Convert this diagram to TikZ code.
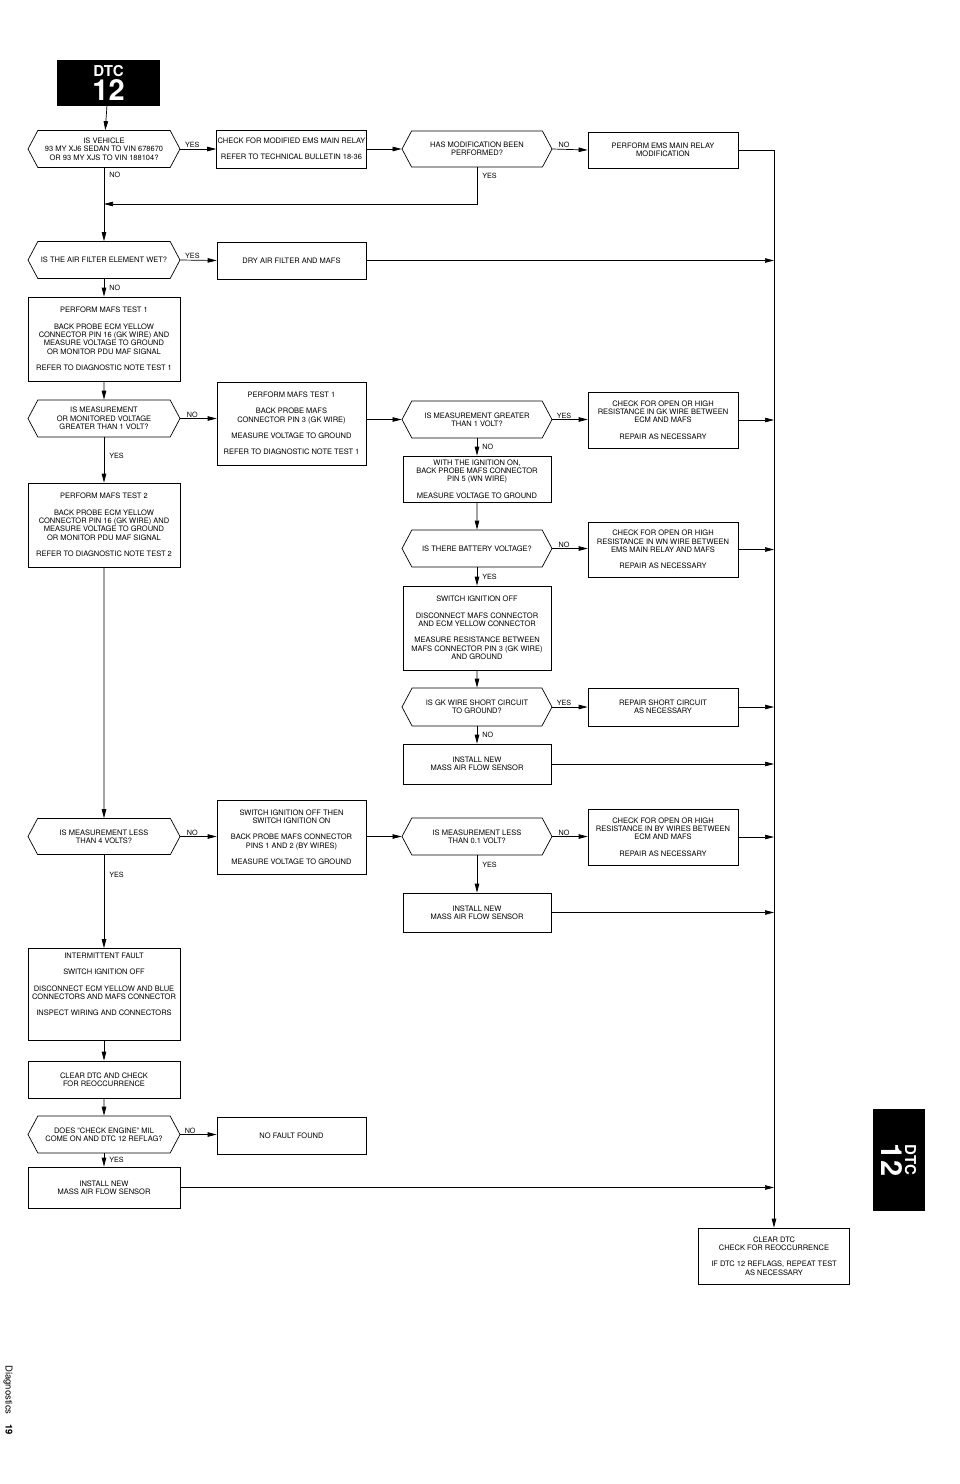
\documentclass[tikz,border=0pt]{standalone}
\usepackage{fontspec}
\setmainfont{TeX Gyre Heros}
\usetikzlibrary{arrows.meta,shapes.symbols}

\begin{document}
\begin{tikzpicture}[x=1pt,y=-1pt,
  every node/.style={font=\fontsize{7.5}{8.3}\selectfont, align=center},
  box/.style={draw, line width=0.7pt, inner xsep=1pt, inner ysep=2pt},
  lift/.style={execute at end node={\\[1.7pt]\mbox{}}},
  decision/.style={draw, line width=0.7pt, signal, signal to=west and east,
    signal pointer angle=124, inner sep=1pt},
  arr/.style={line width=0.7pt, -{Triangle[length=9pt,width=4.5pt]}},
  lbl/.style={inner sep=1pt, font=\fontsize{7.2}{8}\selectfont},
  tab/.style={fill=black, text=white, font=\fontsize{10}{10}\selectfont\bfseries}]

\useasboundingbox (0,0) rectangle (960,1484);

\node[tab, minimum width=103, minimum height=46] (title) at (108.5,83)
  {{\fontsize{15}{15}\selectfont DTC}\\[1pt]{\fontsize{29}{29}\selectfont 12}};

\node[decision, minimum width=152, minimum height=37] (vehicle) at (104,149)
  {IS VEHICLE\\93 MY XJ6 SEDAN TO VIN 678670\\OR 93 MY XJS TO VIN 188104?};
\node[box, minimum width=149, minimum height=38] (relaycheck) at (291.5,149)
  {CHECK FOR MODIFIED EMS MAIN RELAY\\[8pt]REFER TO TECHNICAL BULLETIN 18-36};
\node[decision, minimum width=150, minimum height=36] (modified) at (477,149)
  {HAS MODIFICATION BEEN\\PERFORMED?};
\node[box, lift, minimum width=150, minimum height=36] (relaymod) at (663,150)
  {PERFORM EMS MAIN RELAY\\MODIFICATION};
\coordinate (join) at (104,204);

\node[decision, minimum width=152, minimum height=37] (wet) at (104,260)
  {IS THE AIR FILTER ELEMENT WET?};
\node[box, minimum width=149, minimum height=37] (dry) at (291.5,260.5)
  {DRY AIR FILTER AND MAFS};

\node[box, lift, minimum width=152, minimum height=84] (ecmtest1) at (104,339)
  {PERFORM MAFS TEST 1\\[8pt]BACK PROBE ECM YELLOW\\CONNECTOR PIN 16 (GK WIRE) AND\\MEASURE VOLTAGE TO GROUND\\OR MONITOR PDU MAF SIGNAL\\[8pt]REFER TO DIAGNOSTIC NOTE TEST 1};
\node[decision, minimum width=152, minimum height=37] (ecmvolt) at (104,418.5)
  {IS MEASUREMENT\\OR MONITORED VOLTAGE\\GREATER THAN 1 VOLT?};
\node[box, lift, minimum width=149, minimum height=83] (mafstest1) at (291.5,423.5)
  {PERFORM MAFS TEST 1\\[8pt]BACK PROBE MAFS\\CONNECTOR PIN 3 (GK WIRE)\\[8pt]MEASURE VOLTAGE TO GROUND\\[8pt]REFER TO DIAGNOSTIC NOTE TEST 1};
\node[decision, minimum width=150, minimum height=37] (mafsvolt) at (477,419.5)
  {IS MEASUREMENT GREATER\\THAN 1 VOLT?};
\node[box, lift, minimum width=150, minimum height=56] (gkopen) at (663,420)
  {CHECK FOR OPEN OR HIGH\\RESISTANCE IN GK WIRE BETWEEN\\ECM AND MAFS\\[8pt]REPAIR AS NECESSARY};
\node[box, minimum width=148, minimum height=46] (wnprobe) at (477,479)
  {WITH THE IGNITION ON,\\BACK PROBE MAFS CONNECTOR\\PIN 5 (WN WIRE)\\[8pt]MEASURE VOLTAGE TO GROUND};
\node[decision, minimum width=150, minimum height=37] (battery) at (477,548.5)
  {IS THERE BATTERY VOLTAGE?};
\node[box, lift, minimum width=150, minimum height=55] (wnopen) at (663,549.5)
  {CHECK FOR OPEN OR HIGH\\RESISTANCE IN WN WIRE BETWEEN\\EMS MAIN RELAY AND MAFS\\[8pt]REPAIR AS NECESSARY};
\node[box, lift, minimum width=148, minimum height=84] (resist) at (477,628)
  {SWITCH IGNITION OFF\\[8pt]DISCONNECT MAFS CONNECTOR\\AND ECM YELLOW CONNECTOR\\[8pt]MEASURE RESISTANCE BETWEEN\\MAFS CONNECTOR PIN 3 (GK WIRE)\\AND GROUND};
\node[decision, minimum width=150, minimum height=38] (gkshort) at (477,707)
  {IS GK WIRE SHORT CIRCUIT\\TO GROUND?};
\node[box, minimum width=150, minimum height=38] (repshort) at (663,707)
  {REPAIR SHORT CIRCUIT\\AS NECESSARY};
\node[box, minimum width=148, minimum height=40] (newmafsa) at (477,764)
  {INSTALL NEW\\MASS AIR FLOW SENSOR};

\node[box, lift, minimum width=152, minimum height=84] (ecmtest2) at (104,525)
  {PERFORM MAFS TEST 2\\[8pt]BACK PROBE ECM YELLOW\\CONNECTOR PIN 16 (GK WIRE) AND\\MEASURE VOLTAGE TO GROUND\\OR MONITOR PDU MAF SIGNAL\\[8pt]REFER TO DIAGNOSTIC NOTE TEST 2};
\node[decision, minimum width=152, minimum height=36] (lessfour) at (104,836.5)
  {IS MEASUREMENT LESS\\THAN 4 VOLTS?};
\node[box, lift, minimum width=149, minimum height=74] (byprobe) at (291.5,837)
  {SWITCH IGNITION OFF THEN\\SWITCH IGNITION ON\\[8pt]BACK PROBE MAFS CONNECTOR\\PINS 1 AND 2 (BY WIRES)\\[8pt]MEASURE VOLTAGE TO GROUND};
\node[decision, minimum width=150, minimum height=37] (lesstenth) at (477,836.5)
  {IS MEASUREMENT LESS\\THAN 0.1 VOLT?};
\node[box, lift, minimum width=150, minimum height=56] (byopen) at (663,837)
  {CHECK FOR OPEN OR HIGH\\RESISTANCE IN BY WIRES BETWEEN\\ECM AND MAFS\\[8pt]REPAIR AS NECESSARY};
\node[box, minimum width=148, minimum height=39] (newmafsb) at (477,912.5)
  {INSTALL NEW\\MASS AIR FLOW SENSOR};

\node[box, minimum width=152, minimum height=92] (intermit) at (104,994.5)
  {INTERMITTENT FAULT\\[8pt]SWITCH IGNITION OFF\\[8pt]DISCONNECT ECM YELLOW AND BLUE\\CONNECTORS AND MAFS CONNECTOR\\[8pt]INSPECT WIRING AND CONNECTORS\\[12pt]\mbox{}};
\node[box, minimum width=152, minimum height=37] (cleardtc) at (104,1079.5)
  {CLEAR DTC AND CHECK\\FOR REOCCURRENCE};
\node[decision, minimum width=152, minimum height=37] (reflag) at (104,1134.5)
  {DOES "CHECK ENGINE" MIL\\COME ON AND DTC 12 REFLAG?};
\node[box, minimum width=149, minimum height=37] (nofault) at (291.5,1135.5)
  {NO FAULT FOUND};
\node[box, minimum width=152, minimum height=41] (newmafsc) at (104,1187.5)
  {INSTALL NEW\\MASS AIR FLOW SENSOR};

\node[box, lift, minimum width=151, minimum height=56] (final) at (774,1256)
  {CLEAR DTC\\CHECK FOR REOCCURRENCE\\[8pt]IF DTC 12 REFLAGS, REPEAT TEST\\AS NECESSARY};

\node[tab, rotate=-90, minimum width=102, minimum height=52] (sidetab) at (899,1160)
  {{\fontsize{15}{15}\selectfont DTC}\\[1pt]{\fontsize{29}{29}\selectfont 12}};
\node[rotate=-90, font=\fontsize{9.5}{9.5}\selectfont] (page) at (8,1400)
  {Diagnostics\quad\textbf{19}};

\draw[arr] (title) -- (vehicle);
\draw[arr] (vehicle.east) -- node[lbl, above, pos=.33] {YES} (relaycheck.west);
\draw[arr] (relaycheck.east) -- (modified.west);
\draw[arr] (modified.east) -- node[lbl, above, pos=.33] {NO} (relaymod.west);
\draw[arr] (relaymod.east) -| (final.north);
\draw[arr] (vehicle.south) -- node[lbl, right, pos=.09, xshift=4pt] {NO} (wet.north);
\draw[arr] (modified.south) |- node[lbl, right, pos=.11, xshift=4pt] {YES} (join);
\draw[arr] (wet.east) -- node[lbl, above, pos=.33] {YES} (dry.west);
\draw[arr] (dry.east) -- (dry.east -| final.north);
\draw[arr] (wet.south) -- node[lbl, right, xshift=4pt] {NO} (ecmtest1.north);
\draw[arr] (ecmtest1) -- (ecmvolt);
\draw[arr] (ecmvolt.east) -- node[lbl, above, pos=.33] {NO} (ecmvolt.east -| mafstest1.west);
\draw[arr] (mafstest1.east |- mafsvolt.west) -- (mafsvolt.west);
\draw[arr] (mafsvolt.east) -- node[lbl, above, pos=.33] {YES} (gkopen.west |- mafsvolt.east);
\draw[arr] (gkopen.east) -- (gkopen.east -| final.north);
\draw[arr] (mafsvolt.south) -- node[lbl, right, xshift=4pt] {NO} (wnprobe.north);
\draw[arr] (wnprobe) -- (battery);
\draw[arr] (battery.east) -- node[lbl, above, pos=.33] {NO} (wnopen.west |- battery.east);
\draw[arr] (wnopen.east) -- (wnopen.east -| final.north);
\draw[arr] (battery.south) -- node[lbl, right, xshift=4pt] {YES} (resist.north);
\draw[arr] (resist) -- (gkshort);
\draw[arr] (gkshort.east) -- node[lbl, above, pos=.33] {YES} (repshort.west);
\draw[arr] (repshort.east) -- (repshort.east -| final.north);
\draw[arr] (gkshort.south) -- node[lbl, right, xshift=4pt] {NO} (newmafsa.north);
\draw[arr] (newmafsa.east) -- (newmafsa.east -| final.north);
\draw[arr] (ecmvolt.south) -- node[lbl, right, pos=.41, xshift=4pt] {YES} (ecmtest2.north);
\draw[arr] (ecmtest2) -- (lessfour);
\draw[arr] (lessfour.east) -- node[lbl, above, pos=.33] {NO} (byprobe.west |- lessfour.east);
\draw[arr] (byprobe.east |- lesstenth.west) -- (lesstenth.west);
\draw[arr] (lesstenth.east) -- node[lbl, above, pos=.33] {NO} (byopen.west |- lesstenth.east);
\draw[arr] (byopen.east) -- (byopen.east -| final.north);
\draw[arr] (lesstenth.south) -- node[lbl, right, pos=.26, xshift=4pt] {YES} (newmafsb.north);
\draw[arr] (newmafsb.east) -- (newmafsb.east -| final.north);
\draw[arr] (lessfour.south) -- node[lbl, right, pos=.21, xshift=4pt] {YES} (intermit.north);
\draw[arr] (intermit) -- (cleardtc);
\draw[arr] (cleardtc) -- (reflag);
\draw[arr] (reflag.east) -- node[lbl, above, pos=.27] {NO} (nofault.west |- reflag.east);
\draw[arr] (reflag.south) -- node[lbl, right, xshift=4pt] {YES} (newmafsc.north);
\draw[arr] (newmafsc.east) -- (newmafsc.east -| final.north);

\end{tikzpicture}
\end{document}
